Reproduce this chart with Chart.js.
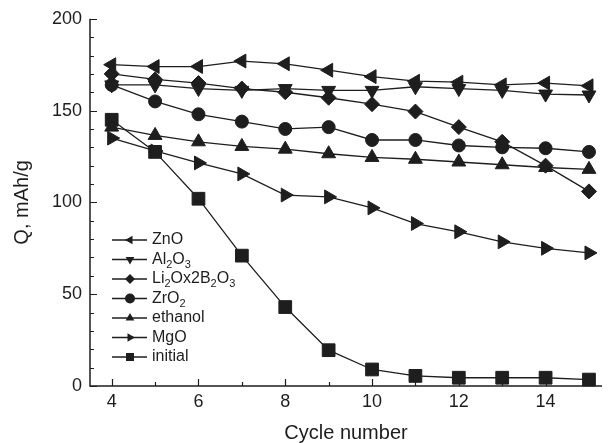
<!DOCTYPE html>
<html>
<head>
<meta charset="utf-8">
<script src="https://cdn.jsdelivr.net/npm/chart.js"></script>
<style>
  body { margin: 0; background: #fff; }
</style>
</head>
<body>
<canvas id="myChart" width="612" height="443"></canvas>
<script>
// cycle numbers (x) and capacity values, mAh/g
const cycles   = [4, 5, 6, 7, 8, 9, 10, 11, 12, 13, 14, 15];
const znO      = [175, 174, 174, 177, 175.5, 172, 168.5, 166, 165.5, 164, 165, 163.5];
const al2o3    = [164, 164, 162, 161, 162, 161, 161, 163, 162, 161, 159, 158.5];
const li2o     = [170, 167, 165, 162, 160, 157, 153.5, 149.5, 141, 133, 120, 106];
const zro2     = [164, 155, 148, 144, 140, 141, 134, 134, 131, 130, 129.5, 127.5];
const ethanol  = [141, 136.5, 133, 130.5, 129, 126.5, 124.5, 123.5, 122, 120.5, 119, 118];
const mgo      = [135, 128, 121.5, 115.5, 104, 103, 97, 88.5, 84, 78.5, 75, 72.5];
const initial  = [145, 127.5, 102, 71, 43, 19.5, 9, 5.5, 4.5, 4.5, 4.5, 3.5];

const xTicks = [4, 6, 8, 10, 12, 14];
const yTicks = [0, 50, 100, 150, 200];

const FONT = "'Liberation Sans', Arial, sans-serif";
const INK = '#1e1e1e';

function pts(vals) {
    return vals.map((v, i) => ({x: cycles[i], y: v}));
}

function series(label, vals, style, rot, radius) {
    return {
        label: label,
        data: pts(vals),
        borderColor: INK,
        borderWidth: 1.3,
        backgroundColor: INK,
        pointStyle: style,
        pointRotation: rot,
        pointRadius: radius,
        pointBackgroundColor: INK,
        pointBorderColor: INK,
        pointBorderWidth: 1,
        clip: false,
        tension: 0
    };
}

// small marker for the legend
function drawMarker(ctx, style, rot, x, y, r) {
    ctx.beginPath();
    if (style === 'circle') {
        ctx.arc(x, y, r, 0, Math.PI * 2);
    } else if (style === 'rect') {
        ctx.rect(x - r * 0.8, y - r * 0.8, r * 1.6, r * 1.6);
    } else if (style === 'rectRot') {
        ctx.moveTo(x, y - r); ctx.lineTo(x + r, y); ctx.lineTo(x, y + r); ctx.lineTo(x - r, y);
    } else {
        let a = rot * Math.PI / 180;
        for (let k = 0; k < 3; k++) {
            const px = x + Math.sin(a) * r, py = y - Math.cos(a) * r;
            if (k === 0) ctx.moveTo(px, py); else ctx.lineTo(px, py);
            a += Math.PI * 2 / 3;
        }
    }
    ctx.closePath();
    ctx.fill();
}

// text with ₂ ₃ drawn as real subscripts
function drawRich(ctx, text, x, y) {
    const subs = {'₂': '2', '₃': '3'};
    for (const ch of text) {
        if (subs[ch]) {
            ctx.font = '11px ' + FONT;
            ctx.fillText(subs[ch], x, y + 5);
            x += ctx.measureText(subs[ch]).width;
        } else {
            ctx.font = '16px ' + FONT;
            ctx.fillText(ch, x, y);
            x += ctx.measureText(ch).width;
        }
    }
}

const framePlugin = {
    id: 'frame',
    beforeDatasetsDraw(chart) {
        const {ctx, chartArea: a, scales: {x, y}} = chart;
        ctx.save();
        ctx.strokeStyle = INK;
        ctx.lineWidth = 1.5;
        ctx.beginPath();
        ctx.moveTo(a.left, a.top);
        ctx.lineTo(a.left, a.bottom);
        ctx.lineTo(a.right, a.bottom);
        ctx.stroke();
        ctx.lineWidth = 1.2;
        ctx.beginPath();
        for (let v = 4; v <= 15; v++) {
            const px = Math.round(x.getPixelForValue(v)) + 0.5;
            const len = (v % 2 === 0) ? 7 : 4;
            ctx.moveTo(px, a.bottom);
            ctx.lineTo(px, a.bottom - len);
        }
        for (let v = 0; v <= 200; v += 10) {
            const py = Math.round(y.getPixelForValue(v)) + 0.5;
            const len = (v % 50 === 0) ? 7 : 4;
            ctx.moveTo(a.left, py);
            ctx.lineTo(a.left + len, py);
        }
        ctx.stroke();
        ctx.restore();
    },
    afterDraw(chart) {
        const {ctx, chartArea: a} = chart;
        ctx.save();
        ctx.fillStyle = INK;
        ctx.textBaseline = 'middle';
        // axis titles
        ctx.font = '20px ' + FONT;
        ctx.textAlign = 'center';
        ctx.fillText('Cycle number', (a.left + a.right) / 2, 433);
        ctx.save();
        ctx.translate(22, (a.top + a.bottom) / 2);
        ctx.rotate(-Math.PI / 2);
        ctx.fillText('Q, mAh/g', 0, 0);
        ctx.restore();
        // legend
        ctx.textAlign = 'left';
        chart.data.datasets.forEach((ds, i) => {
            const yy = 240 + i * 19.5;
            ctx.strokeStyle = INK;
            ctx.lineWidth = 1.3;
            ctx.beginPath();
            ctx.moveTo(112, yy);
            ctx.lineTo(147, yy);
            ctx.stroke();
            drawMarker(ctx, ds.pointStyle, ds.pointRotation, 130, yy, 5);
            drawRich(ctx, ds.label, 152, yy);
        });
        ctx.restore();
    }
};

const tickFont = {family: FONT, size: 18};

const config = {
    type: 'line',
    data: {
        datasets: [
            series('ZnO', znO, 'triangle', -90, 8),
            series('Al₂O₃', al2o3, 'triangle', 180, 8),
            series('Li₂Ox2B₂O₃', li2o, 'rectRot', 0, 7.5),
            series('ZrO₂', zro2, 'circle', 0, 6.5),
            series('ethanol', ethanol, 'triangle', 0, 8),
            series('MgO', mgo, 'triangle', 90, 8),
            series('initial', initial, 'rect', 0, 9)
        ]
    },
    options: {
        responsive: false,
        animation: false,
        devicePixelRatio: 1,
        layout: {padding: {top: 18, right: 0, left: 0, bottom: 0}},
        plugins: {legend: {display: false}, tooltip: {enabled: false}},
        scales: {
            x: {
                type: 'linear',
                min: 3.5,
                max: 15.3,
                afterFit: s => { s.height = 57; },
                afterBuildTicks: s => { s.ticks = xTicks.map(v => ({value: v})); },
                grid: {display: false, drawTicks: false},
                border: {display: false},
                ticks: {padding: 5, color: INK, font: tickFont, maxRotation: 0}
            },
            y: {
                type: 'linear',
                min: 0,
                max: 200,
                afterFit: s => { s.width = 90; },
                afterBuildTicks: s => { s.ticks = yTicks.map(v => ({value: v})); },
                grid: {display: false, drawTicks: false},
                border: {display: false},
                ticks: {padding: 8, color: INK, font: tickFont}
            }
        }
    },
    plugins: [framePlugin]
};

var myChart = new Chart(document.getElementById('myChart'), config);
</script>
</body>
</html>
